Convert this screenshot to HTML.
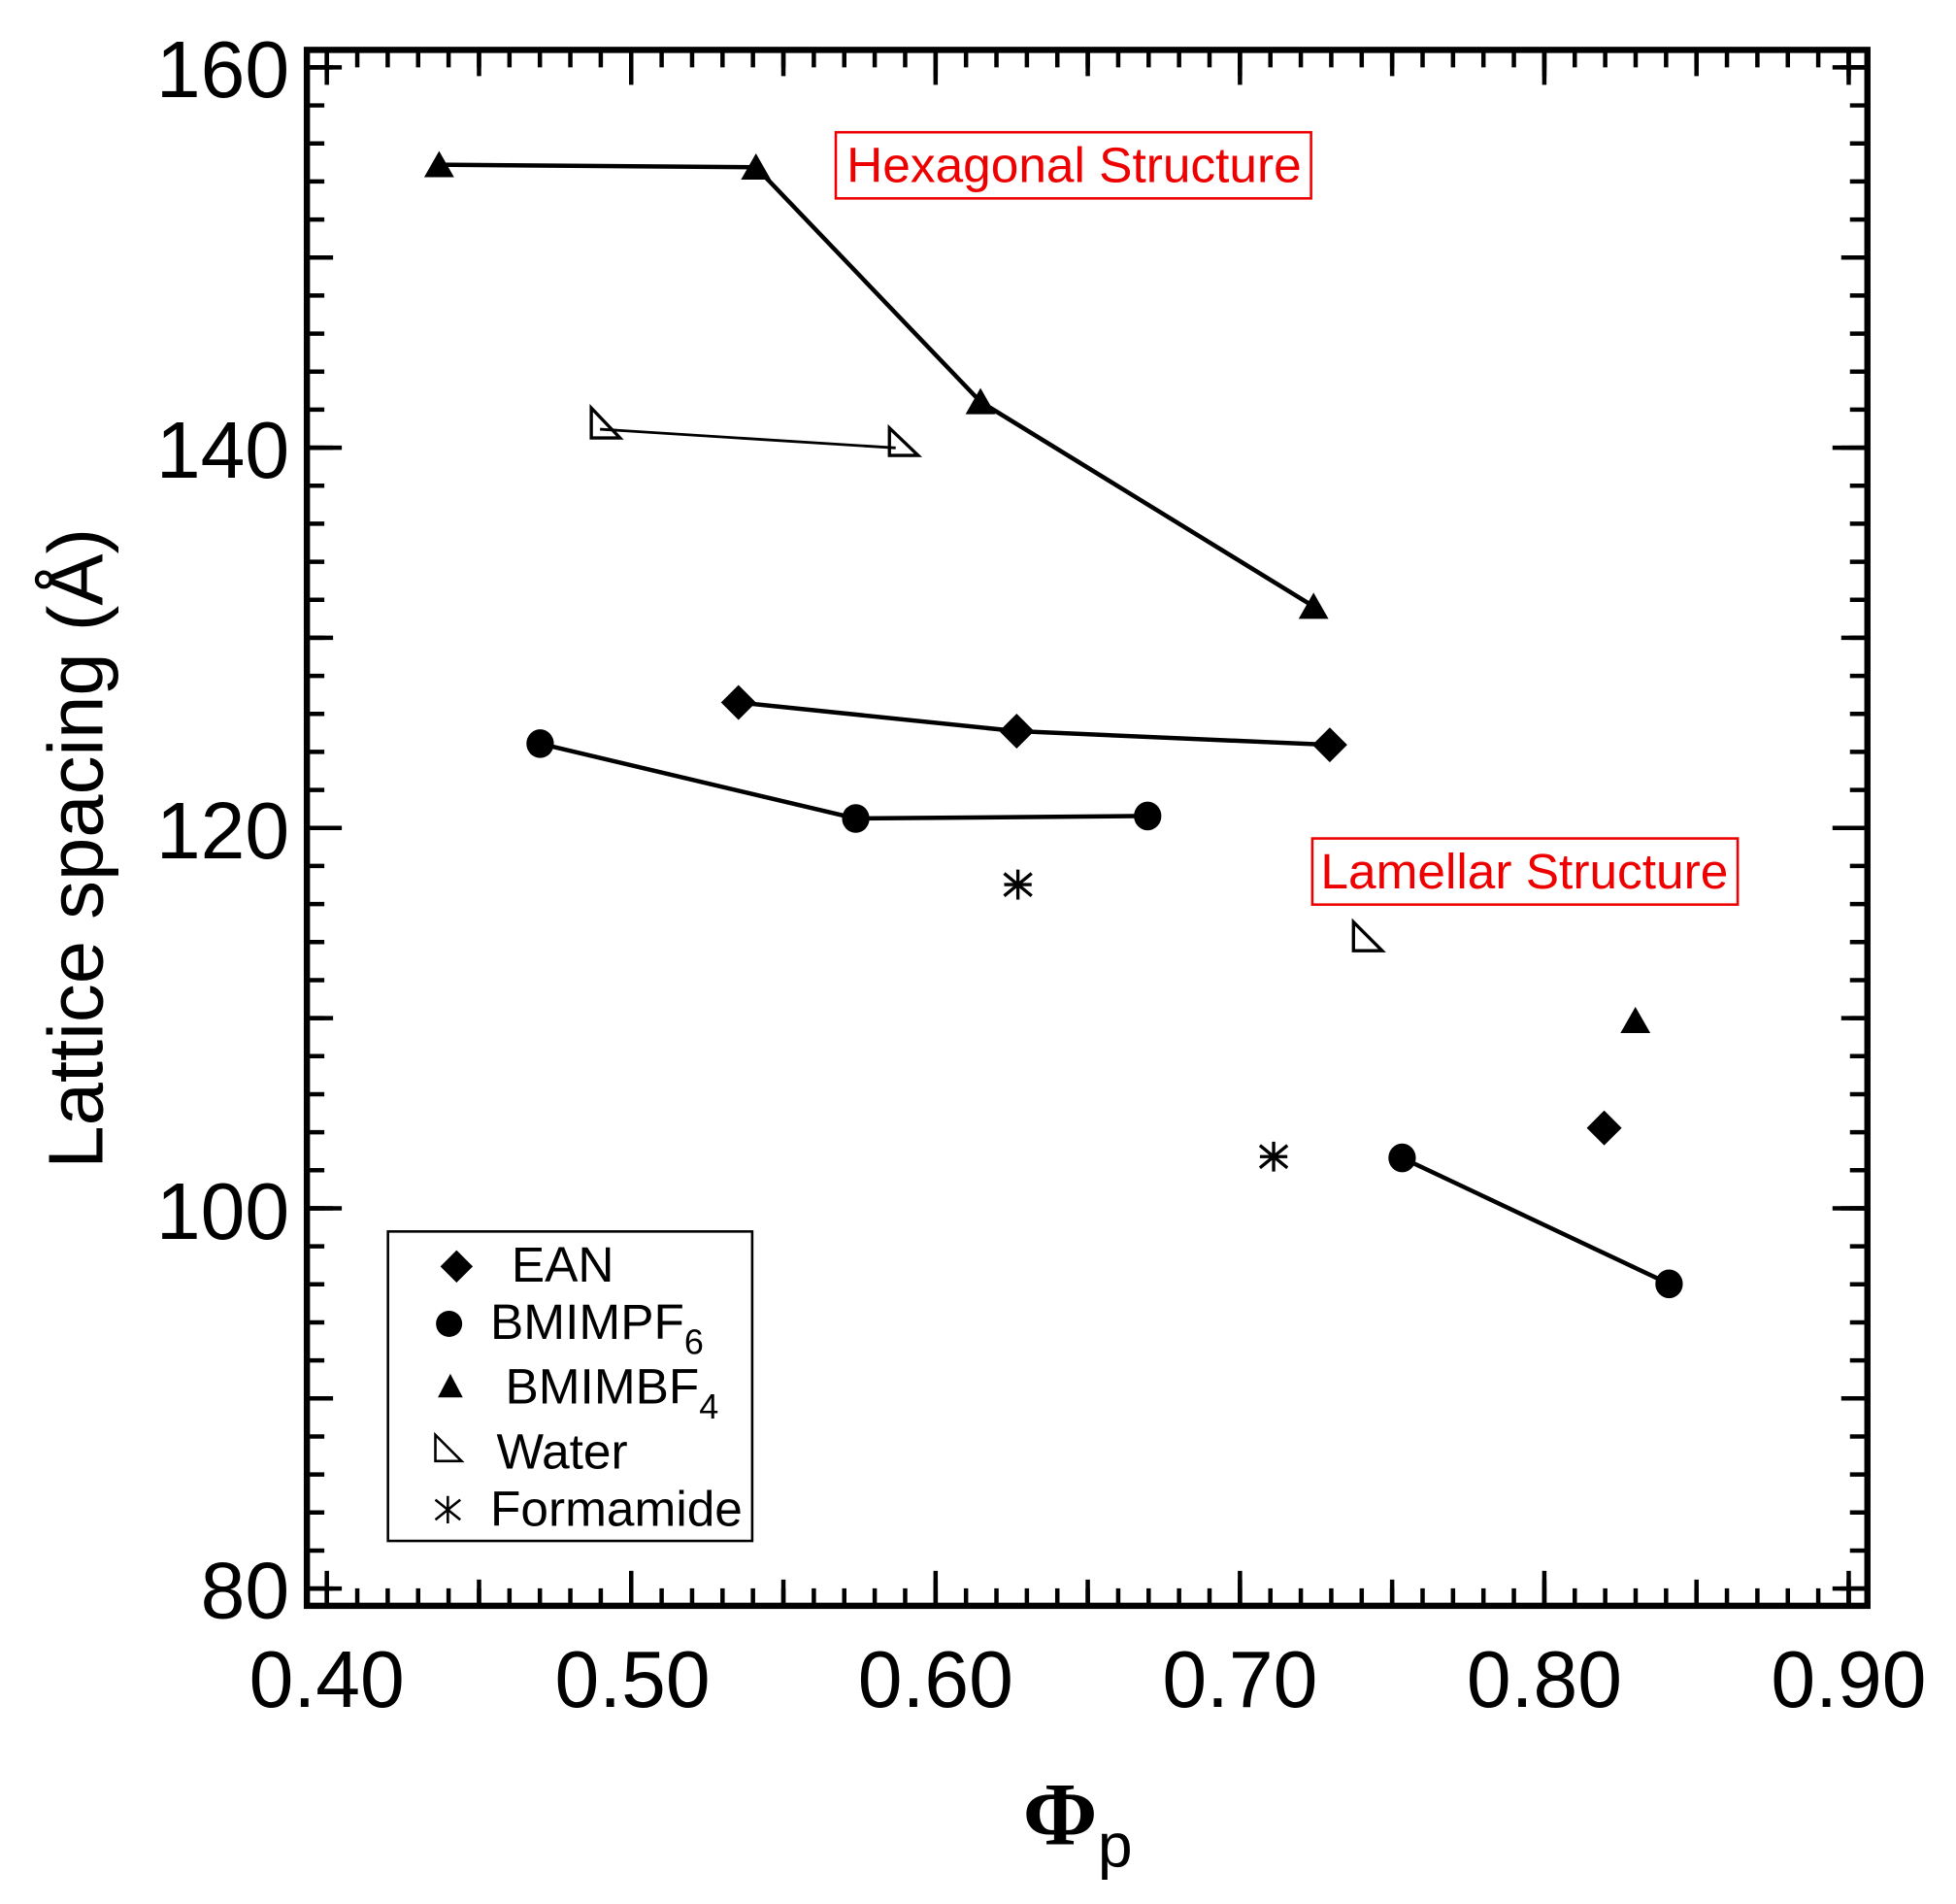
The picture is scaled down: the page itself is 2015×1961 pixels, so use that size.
<!DOCTYPE html>
<html><head><meta charset="utf-8"><style>html,body{margin:0;padding:0;background:#fff}svg{display:block}</style></head>
<body>
<svg width="2015" height="1961" viewBox="0 0 1568 1526" xmlns="http://www.w3.org/2000/svg" font-family="Liberation Sans, Arial, sans-serif">
<rect width="1568" height="1526" fill="#fff"/>
<g stroke="#000" fill="none">
<line x1="260.25" y1="1280" x2="1497" y2="1280" stroke-width="14" stroke-dasharray="3.5 20.9"/>
<line x1="260.25" y1="1276.5" x2="1497" y2="1276.5" stroke-width="21" stroke-dasharray="3.5 118.5"/>
<line x1="260.25" y1="1273" x2="1497" y2="1273" stroke-width="28" stroke-dasharray="3.5 240.5"/>
<line x1="260.25" y1="47" x2="1497" y2="47" stroke-width="14" stroke-dasharray="3.5 20.9"/>
<line x1="260.25" y1="50.5" x2="1497" y2="50.5" stroke-width="21" stroke-dasharray="3.5 118.5"/>
<line x1="260.25" y1="54" x2="1497" y2="54" stroke-width="28" stroke-dasharray="3.5 240.5"/>
<line x1="253" y1="1274.95" x2="253" y2="40" stroke-width="14" stroke-dasharray="3.5 26.98"/>
<line x1="256.5" y1="1274.95" x2="256.5" y2="40" stroke-width="21" stroke-dasharray="3.5 148.9"/>
<line x1="260" y1="1274.95" x2="260" y2="40" stroke-width="28" stroke-dasharray="3.5 301.3"/>
<line x1="1490" y1="1274.95" x2="1490" y2="40" stroke-width="14" stroke-dasharray="3.5 26.98"/>
<line x1="1486.5" y1="1274.95" x2="1486.5" y2="40" stroke-width="21" stroke-dasharray="3.5 148.9"/>
<line x1="1483" y1="1274.95" x2="1483" y2="40" stroke-width="28" stroke-dasharray="3.5 301.3"/>
</g>
<rect x="246" y="40" width="1251" height="1247" fill="none" stroke="#000" stroke-width="5"/>
<g font-size="64" text-anchor="end" fill="#000">
<text x="232" y="78">160</text><text x="232" y="383">140</text><text x="232" y="688">120</text><text x="232" y="993">100</text><text x="232" y="1297">80</text>
</g>
<g font-size="64" text-anchor="middle" fill="#000">
<text x="262" y="1368">0.40</text><text x="507" y="1368">0.50</text><text x="750" y="1368">0.60</text><text x="994" y="1368">0.70</text><text x="1238" y="1368">0.80</text><text x="1482" y="1368">0.90</text>
</g>
<text transform="translate(82,680) rotate(-90)" font-size="62" text-anchor="middle">Lattice spacing (Å)</text>
<text x="820" y="1478" font-family="Liberation Serif, serif" font-size="72" font-weight="bold">Φ</text>
<text x="880" y="1496" font-size="50">p</text>
<rect x="670" y="106" width="381" height="53" fill="none" stroke="#e00" stroke-width="2"/>
<text x="861" y="146" font-size="40" fill="#e00" text-anchor="middle">Hexagonal Structure</text>
<rect x="1052" y="672" width="341" height="53" fill="none" stroke="#e00" stroke-width="2"/>
<text x="1222" y="712" font-size="40" fill="#e00" text-anchor="middle">Lamellar Structure</text>
<g stroke="#000" stroke-width="3.5" fill="none">
<polyline points="352,132 606,134 786,322 1053,486"/>
<polyline points="592,563 815,586 1066,597"/>
<polyline points="433,596 686,656 920,654"/>
<polyline points="1124,928 1338,1029"/>
<line x1="481" y1="344" x2="718" y2="359" stroke-width="2.2"/>
</g>
<g fill="#000">
<path d="M352,121 l12,21 h-24z M606,123 l12,21 h-24z M786,311 l12,21 h-24z M1053,475 l12,21 h-24z M1311,807 l12,21 h-24z"/>
<path d="M592,549 l14,14 -14,14 -14,-14z M815,572 l14,14 -14,14 -14,-14z M1066,583 l14,14 -14,14 -14,-14z M1286,890 l14,14 -14,14 -14,-14z"/>
<ellipse cx="433" cy="596" rx="11" ry="11.5"/><ellipse cx="686" cy="656" rx="11" ry="11.5"/><ellipse cx="920" cy="654" rx="11" ry="11.5"/><ellipse cx="1124" cy="928" rx="11" ry="11.5"/><ellipse cx="1338" cy="1029" rx="11" ry="11.5"/>
</g>
<g fill="none" stroke="#000" stroke-width="2.6">
<path d="M474,327 v24 h23z M713,343 v22 h23z M1085,739 v23 h23z"/>
<path d="M816,697 v24 M805,700 l22,18 M805,718 l22,-18 M805,709 h22 M1021,915 v24 M1010,918 l22,18 M1010,936 l22,-18 M1010,927 h22"/>
</g>
<rect x="311" y="987" width="292" height="248" fill="none" stroke="#000" stroke-width="2"/>
<path d="M366,1002 l13,13 -13,13 -13,-13z" fill="#000"/>
<circle cx="360" cy="1061" r="10.5" fill="#000"/>
<path d="M361,1101 l10,19 h-20z" fill="#000"/>
<path d="M349,1150 v21 h21z" fill="none" stroke="#000" stroke-width="2"/>
<path d="M359,1199 v22 M349,1202 l20,16 M349,1218 l20,-16" stroke="#000" stroke-width="2"/>
<g font-size="40" fill="#000">
<text x="410" y="1027">EAN</text>
<text x="393" y="1073">BMIMPF<tspan font-size="28" dy="12">6</tspan></text>
<text x="405" y="1125">BMIMBF<tspan font-size="28" dy="12">4</tspan></text>
<text x="398" y="1177">Water</text>
<text x="393" y="1223">Formamide</text>
</g>
</svg>
</body></html>
